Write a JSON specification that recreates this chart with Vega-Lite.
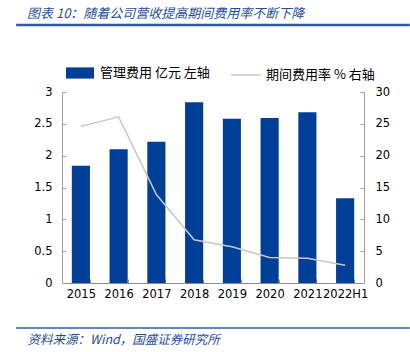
{
  "$schema": "https://vega.github.io/schema/vega-lite/v6.json",
  "width": 302,
  "height": 191,
  "autosize": {"type": "none"},
  "padding": {"left": 62, "top": 92, "right": 46, "bottom": 69},
  "background": "white",
  "config": {"view": {"stroke": null}, "font": "DejaVu Sans"},
  "title": {
    "text": "图表 10：随着公司营收提高期间费用率不断下降",
    "anchor": "start",
    "frame": "group",
    "dx": -35,
    "offset": 3,
    "font": "Noto Sans CJK SC",
    "fontStyle": "italic",
    "fontWeight": "normal",
    "fontSize": 13,
    "color": "#1f4e9c"
  },
  "data": {
    "values": [
      {"year": "2015", "fee": 1.84, "rate": 24.6},
      {"year": "2016", "fee": 2.10, "rate": 26.1},
      {"year": "2017", "fee": 2.22, "rate": 13.9},
      {"year": "2018", "fee": 2.84, "rate": 6.8},
      {"year": "2019", "fee": 2.58, "rate": 5.7},
      {"year": "2020", "fee": 2.59, "rate": 4.0},
      {"year": "2021", "fee": 2.68, "rate": 3.9},
      {"year": "2022H1", "fee": 1.33, "rate": 2.8}
    ]
  },
  "layer": [
    {
      "layer": [
        {
          "mark": {"type": "bar"},
          "encoding": {
            "x": {
              "field": "year", "type": "nominal", "sort": null,
              "scale": {"paddingInner": 0.52, "paddingOuter": 0.26},
              "axis": {
                "title": "资料来源：Wind，国盛证券研究所",
                "titleAnchor": "start", "titleAlign": "left",
                "titleX": -35, "titleY": 56, "titleBaseline": "middle",
                "titleFont": "Noto Sans CJK SC", "titleFontStyle": "italic",
                "titleFontWeight": "normal", "titleFontSize": 12.5, "titleColor": "#1f4e9c",
                "labelAngle": 0, "labelFontSize": 11.5, "labelColor": "#000000",
                "labelPadding": 9,
                "domainColor": "#8c8c8c", "tickColor": "#8c8c8c",
                "tickSize": -4, "tickBand": "extent"
              }
            },
            "y": {
              "field": "fee", "type": "quantitative",
              "scale": {"domain": [0, 3], "nice": false},
              "axis": {
                "title": null, "values": [0, 0.5, 1, 1.5, 2, 2.5, 3], "format": "~g",
                "grid": false, "labelFontSize": 11.5, "labelColor": "#000000",
                "domainColor": "#a0a0a0", "tickColor": "#a0a0a0",
                "tickSize": -4, "labelPadding": 14
              }
            },
            "fill": {
              "datum": "管理费用 亿元 左轴",
              "scale": {"range": ["#003f98"]},
              "legend": {
                "title": null, "orient": "none", "legendX": 4, "legendY": -33,
                "symbolType": "M-1,-0.4H1V0.4H-1Z", "symbolSize": 784,
                "symbolStrokeWidth": 0,
                "labelFont": "Noto Sans CJK SC", "labelFontSize": 13,
                "labelColor": "#000000", "labelOffset": 6, "padding": 0
              }
            }
          }
        },
        {
          "mark": {"type": "line", "strokeWidth": 1.5},
          "encoding": {
            "x": {"field": "year", "type": "nominal", "sort": null},
            "y": {
              "field": "rate", "type": "quantitative",
              "scale": {"domain": [0, 30], "nice": false},
              "axis": {
                "orient": "right", "title": null,
                "values": [0, 5, 10, 15, 20, 25, 30],
                "grid": false, "labelFontSize": 11.5, "labelColor": "#000000",
                "domainColor": "#a0a0a0", "tickColor": "#a0a0a0",
                "tickSize": -4, "labelPadding": 15
              }
            },
            "stroke": {
              "datum": "期间费用率 % 右轴",
              "scale": {"range": ["#c8c8c8"]},
              "legend": {
                "title": null, "orient": "none", "legendX": 168, "legendY": -33,
                "symbolType": "stroke", "symbolSize": 900, "symbolStrokeWidth": 1.5,
                "labelFont": "Noto Sans CJK SC", "labelFontSize": 13,
                "labelColor": "#000000", "labelOffset": 4, "padding": 0
              }
            }
          }
        }
      ],
      "resolve": {"scale": {"y": "independent"}}
    },
    {
      "data": {"values": [{"line": "top"}]},
      "mark": {"type": "rule", "color": "#2e5ea5", "strokeWidth": 2.5},
      "encoding": {
        "x": {"datum": -0.152, "type": "quantitative", "scale": {"domain": [0, 1]}, "axis": null},
        "x2": {"datum": 1.152},
        "y": {"datum": 1.351, "type": "quantitative", "scale": {"domain": [0, 1]}, "axis": null}
      }
    },
    {
      "data": {"values": [{"line": "bottom"}]},
      "mark": {"type": "rule", "color": "#2e5ea5", "strokeWidth": 1.5},
      "encoding": {
        "x": {"datum": -0.152, "type": "quantitative", "scale": {"domain": [0, 1]}, "axis": null},
        "x2": {"datum": 1.152},
        "y": {"datum": -0.236, "type": "quantitative", "scale": {"domain": [0, 1]}, "axis": null}
      }
    }
  ],
  "resolve": {"scale": {"x": "independent", "y": "independent"}}
}
